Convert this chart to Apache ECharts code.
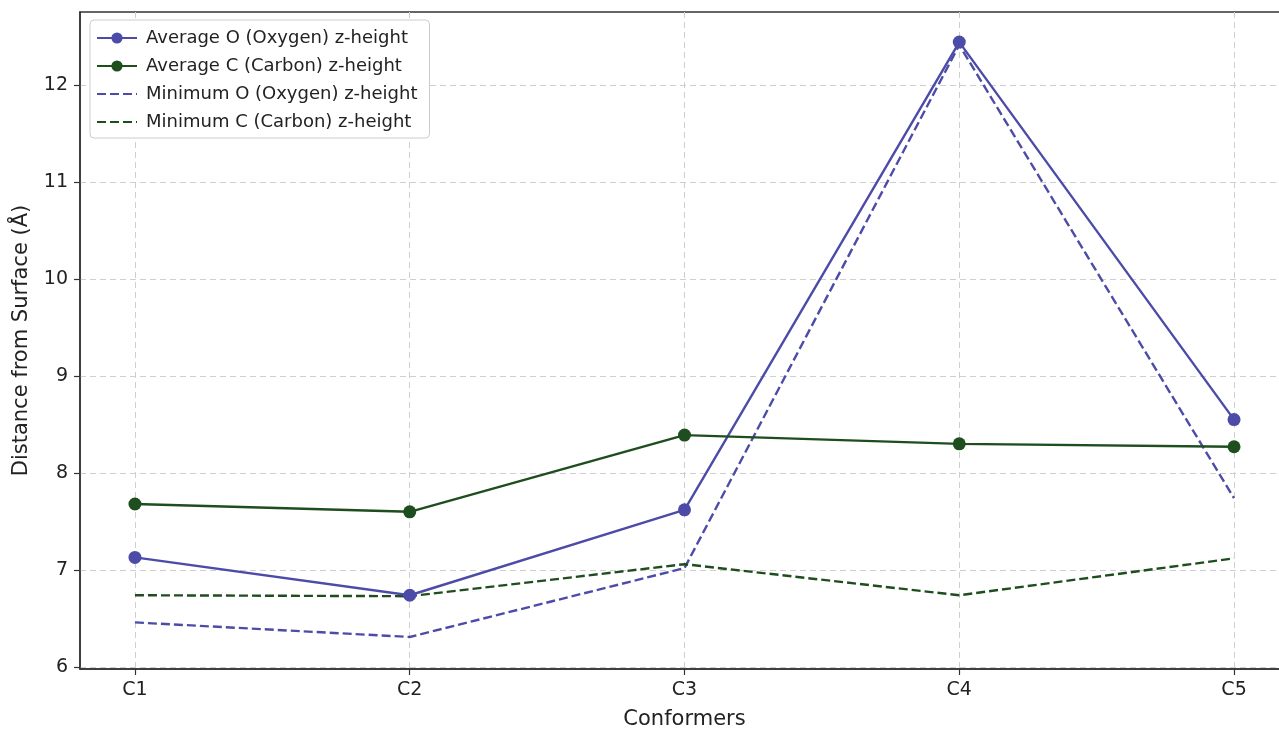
<!DOCTYPE html>
<html>
<head>
<meta charset="utf-8">
<script src="https://cdn.jsdelivr.net/npm/echarts@6/dist/echarts.min.js"></script>
<style>
  html, body { margin: 0; padding: 0; background: #fff; overflow: hidden; }
  #chart { width: 1279px; height: 730px; }
</style>
</head>
<body>
<div id="chart"></div>
<script>
// Conformer labels and z-heights (Å) above the surface
const conformers = ['C1', 'C2', 'C3', 'C4', 'C5'];
const avgOxygen = [7.13, 6.74, 7.62, 12.44, 8.55];
const avgCarbon = [7.68, 7.60, 8.39, 8.30, 8.27];
const minOxygen = [6.46, 6.31, 7.02, 12.41, 7.74];
const minCarbon = [6.74, 6.73, 7.06, 6.74, 7.12];
const yTicks = [6, 7, 8, 9, 10, 11, 12];

const seriesNames = [
  'Average O (Oxygen) z-height',
  'Average C (Carbon) z-height',
  'Minimum O (Oxygen) z-height',
  'Minimum C (Carbon) z-height'
];

const BLUE = '#4c4ca8';
const GREEN = '#1e4d1e';
const FONT = 'DejaVu Sans';
const DASH = [9, 4];

const pts = arr => arr.map((v, i) => [i, v]);
const xTickValues = conformers.map((_, i) => i);

const chart = echarts.init(document.getElementById('chart'), null, { renderer: 'canvas' });

const lineSeries = (name, data, color, dashed) => ({
  name,
  type: 'line',
  data: pts(data),
  color,
  symbol: dashed ? 'none' : 'circle',
  symbolSize: 13,
  showSymbol: !dashed,
  lineStyle: { color, width: 2.4, type: dashed ? DASH : 'solid' },
  itemStyle: { color },
  emphasis: { disabled: true },
  animation: false,
  z: dashed ? 3 : 4
});

chart.setOption({
  backgroundColor: '#ffffff',
  textStyle: { fontFamily: FONT },
  // the plot frame runs slightly past the right edge of the canvas
  grid: {
    left: 80, right: -10, top: 12, bottom: 61,
    outerBoundsMode: 'none',
    show: true, borderColor: '#333', borderWidth: 1.5, backgroundColor: 'transparent'
  },
  legend: {
    left: 90, top: 20,
    orient: 'vertical',
    itemWidth: 40, itemHeight: 14,
    itemGap: 8,
    padding: [8, 12, 6, 6],
    backgroundColor: '#fff',
    borderColor: '#cccccc', borderWidth: 1, borderRadius: 4,
    textStyle: { fontFamily: FONT, fontSize: 18, color: '#222', lineHeight: 20, padding: [0, 0, 0, 4] },
    data: seriesNames.map((name, i) => (i < 2 ? { name } : { name, itemStyle: { opacity: 0 } }))
  },
  xAxis: {
    type: 'value',
    min: -0.2, max: 4.2,
    name: 'Conformers',
    nameLocation: 'middle',
    nameGap: 40,
    nameTextStyle: { fontFamily: FONT, fontSize: 21, color: '#222' },
    axisLine: { show: true, onZero: false, lineStyle: { color: '#333', width: 1.5 } },
    axisTick: { show: true, length: 6, customValues: xTickValues, lineStyle: { color: '#333', width: 1.2 } },
    axisLabel: {
      customValues: xTickValues,
      margin: 12,
      fontFamily: FONT, fontSize: 19, color: '#222',
      formatter: v => conformers[Math.round(v)] || ''
    },
    splitLine: { show: true, lineStyle: { color: '#cfcfcf', type: [6, 4], width: 1 } }
  },
  yAxis: {
    type: 'value',
    min: 5.98, max: 12.75,
    name: 'Distance from Surface (Å)',
    nameLocation: 'middle',
    nameGap: 48,
    nameTextStyle: { fontFamily: FONT, fontSize: 21, color: '#222' },
    axisLine: { show: true, onZero: false, lineStyle: { color: '#333', width: 1.5 } },
    axisTick: { show: true, length: 6, customValues: yTicks, lineStyle: { color: '#333', width: 1.2 } },
    axisLabel: {
      customValues: yTicks,
      margin: 12,
      fontFamily: FONT, fontSize: 19, color: '#222',
      formatter: v => String(Math.round(v))
    },
    splitLine: { show: true, lineStyle: { color: '#cfcfcf', type: [6, 4], width: 1 } }
  },
  series: [
    lineSeries(seriesNames[0], avgOxygen, BLUE, false),
    lineSeries(seriesNames[1], avgCarbon, GREEN, false),
    lineSeries(seriesNames[2], minOxygen, BLUE, true),
    lineSeries(seriesNames[3], minCarbon, GREEN, true)
  ]
});
</script>
</body>
</html>
